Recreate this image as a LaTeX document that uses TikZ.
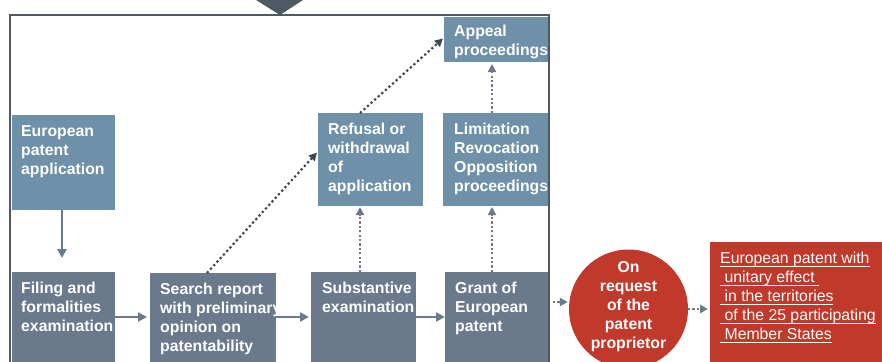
\documentclass[tikz,border=0pt]{standalone}
\usepackage{fontspec}
\setmainfont{Liberation Sans}
\usetikzlibrary{arrows.meta,calc}
\definecolor{lightbox}{HTML}{6E90A8}
\definecolor{darkbox}{HTML}{6A7A8C}
\definecolor{framecol}{HTML}{4F5963}
\definecolor{arrowcol}{HTML}{6A7A8C}
\definecolor{diagcol}{HTML}{3F4852}
\definecolor{redcol}{HTML}{C0392B}
\newcommand\myul[1]{\setbox0\hbox{#1}\rlap{\color{white}\rule[-3.4pt]{\wd0}{1.2pt}}\box0}
\begin{document}
\begin{tikzpicture}[x=1pt,y=-1pt,
  box/.style={rectangle, inner sep=0pt, outer sep=0pt, anchor=north west},
  lbox/.style={box, fill=lightbox},
  dbox/.style={box, fill=darkbox},
  lbl/.style={anchor=north west, inner sep=0pt, align=left, text=white,
    font=\bfseries\fontsize{15.8}{19}\selectfont},
  solidarr/.style={draw=arrowcol, line width=2.4pt, -{Triangle[length=9pt,width=9pt]}},
  dotarr/.style={draw=arrowcol, line width=2.4pt, dash pattern=on 2.3pt off 2.1pt,
    -{Triangle[length=8pt,width=8pt]}},
  diagarr/.style={draw=diagcol, line width=2.2pt, dash pattern=on 2.2pt off 2.6pt,
    -{Triangle[length=8pt,width=8pt]}}
]
\useasboundingbox (0,0) rectangle (882,361);

% boxes
\node[lbox, minimum width=103pt, minimum height=95pt] (epa) at (12,115) {};
\node[dbox, minimum width=103pt, minimum height=90pt] (filing) at (12,272) {};
\node[dbox, minimum width=126pt, minimum height=89pt] (search) at (150,273) {};
\node[dbox, minimum width=105pt, minimum height=90pt] (subst) at (311,272) {};
\node[dbox, minimum width=103pt, minimum height=90pt] (grant) at (445,272) {};
\node[lbox, minimum width=105pt, minimum height=93pt] (refusal) at (318,113) {};
\node[lbox, minimum width=106pt, minimum height=93pt] (limit) at (443,113) {};
\node[lbox, minimum width=105pt, minimum height=45pt] (appeal) at (444,17) {};
\node[circle, fill=redcol, minimum size=119pt, inner sep=0pt] (circ) at (628.5,309) {};
\node[box, fill=redcol, minimum width=180pt, minimum height=125pt] (red) at (710,242) {};

% texts
\node[lbl] (epat) at (21,125) {European\\patent\\application};
\node[lbl] (filingt) at (21,282) {Filing and\\formalities\\examination};
\node[lbl] (searcht) at (160,283) {Search report\\with preliminary\\opinion on\\patentability};
\node[lbl] (substt) at (322,282) {Substantive\\examination};
\node[lbl] (grantt) at (455,282) {Grant of\\European\\patent};
\node[lbl] (refusalt) at (328,123) {Refusal or\\withdrawal\\of\\application};
\node[lbl] (limitt) at (454,123) {Limitation\\Revocation\\Opposition\\proceedings};
\node[lbl] (appealt) at (454,25) {Appeal\\proceedings};
\node[inner sep=0pt, align=center, text=white, font=\bfseries\fontsize{15.8}{19}\selectfont] (circt) at (628.5,307) {On\\request\\of the\\patent\\proprietor};
\node[anchor=north west, inner sep=0pt, align=left, text=white, font=\fontsize{15.8}{19}\selectfont] (redt) at (720,252)
  {\myul{European patent with}\\\myul{\ unitary effect\ }\\\myul{\ in the territories}\\\myul{\ of the 25 participating}\\\myul{\ Member States}};

% solid arrows
\draw[solidarr, shorten >=14pt] (epa.south -| 62,0) -- (filing.north -| 62,0);
\draw[solidarr, shorten >=3pt] (filing.east) -- (search.west |- filing.east);
\draw[solidarr, shorten >=2pt] (search.east |- filing.east) -- (subst.west |- filing.east);
\draw[solidarr] (subst.east |- filing.east) -- (grant.west |- filing.east);

% dotted arrows
\draw[diagarr] ($(search.north west)+(57,0)$) -- ($(refusal.west)+(-1,-7)$);
\draw[diagarr] ($(refusal.north west)+(42,0)$) -- ($(appeal.west)+(-1,-1)$);
\draw[dotarr, shorten >=1pt] (subst.north -| 360,0) -- (refusal.south -| 360,0);
\draw[dotarr, shorten >=1pt] (grant.north -| 492,0) -- (limit.south -| 492,0);
\draw[dotarr, shorten >=2pt] (limit.north -| 492,0) -- (appeal.south -| 492,0);
\coordinate (g1) at (551,302);
\coordinate (c1) at (688,309);
\draw[dotarr, shorten <=2pt, shorten >=1pt] (g1) -- (circ.west |- g1);
\draw[dotarr, shorten >=2pt] (c1) -- (red.west |- c1);

% frame
\draw[framecol, line width=2.6pt] (10,370) -- (10,15) -- (549,15) -- (549,370);
\fill[framecol] (256,-5) -- (303,-5) -- (303,0) -- (280,15) -- (256,0) -- cycle;
\end{tikzpicture}
\end{document}
